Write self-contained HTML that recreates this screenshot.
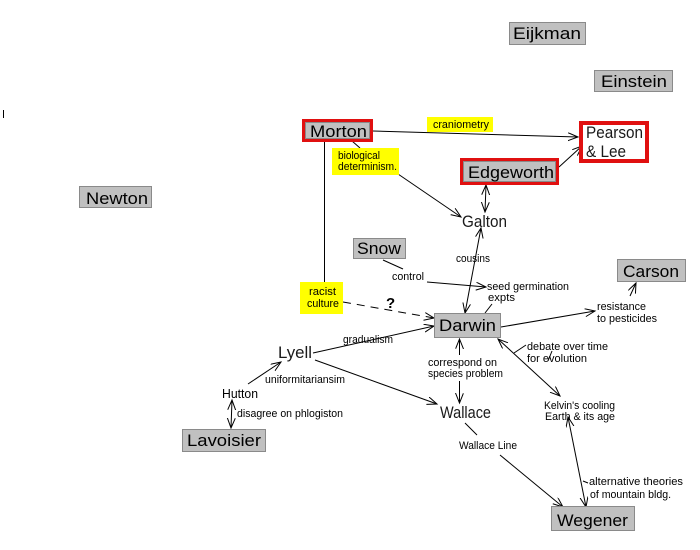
<!DOCTYPE html>
<html><head><meta charset="utf-8"><style>
html,body{margin:0;padding:0;background:#fff;width:700px;height:550px;overflow:hidden}
svg{display:block}
.bl{font-family:"Liberation Sans",sans-serif;font-size:16.5px;fill:#000}
.lt{font-family:"Liberation Sans",sans-serif;font-size:16.5px;fill:#1a1a1a}
.sm{font-family:"Liberation Sans",sans-serif;font-size:11px;fill:#000}
.gb{fill:#c0c0c0;stroke:#8a8a8a;stroke-width:1}
.rb{fill:#c0c0c0;stroke:#e01010;stroke-width:3}
.ln{stroke:#000;stroke-width:1;fill:none}
</style></head><body>
<svg width="700" height="550" viewBox="0 0 700 550" xmlns="http://www.w3.org/2000/svg">
<defs>
<marker id="a" markerUnits="userSpaceOnUse" markerWidth="12" markerHeight="10" refX="10" refY="4" orient="auto-start-reverse">
<path d="M0,0 L10,4 L0,8" fill="none" stroke="#000" stroke-width="1"/>
</marker>
</defs>

<!-- stray mark -->
<line x1="3.5" y1="110" x2="3.5" y2="118" stroke="#000" stroke-width="1"/>

<!-- connectors -->
<line class="ln" x1="373" y1="131" x2="578" y2="137" marker-end="url(#a)"/>
<line class="ln" x1="559" y1="167" x2="582" y2="146" marker-end="url(#a)"/>
<line class="ln" x1="352" y1="141" x2="360" y2="148"/>
<line class="ln" x1="398" y1="174" x2="461" y2="217" marker-end="url(#a)"/>
<line class="ln" x1="486" y1="185" x2="485" y2="212" marker-start="url(#a)" marker-end="url(#a)"/>
<line class="ln" x1="481" y1="228" x2="465" y2="313" marker-start="url(#a)" marker-end="url(#a)"/>
<line class="ln" x1="383" y1="260" x2="403" y2="269"/>
<line class="ln" x1="427" y1="282" x2="486" y2="287" marker-end="url(#a)"/>
<line class="ln" x1="492" y1="304" x2="485" y2="313"/>
<line class="ln" x1="343" y1="302" x2="434" y2="318" stroke-dasharray="8,6" marker-end="url(#a)"/>
<line class="ln" x1="324.5" y1="141" x2="324.5" y2="282"/>
<line class="ln" x1="313" y1="353" x2="434" y2="326" marker-end="url(#a)"/>
<line class="ln" x1="315" y1="360" x2="437" y2="404" marker-end="url(#a)"/>
<line class="ln" x1="248" y1="384" x2="281" y2="362" marker-end="url(#a)"/>
<line class="ln" x1="232" y1="400" x2="231" y2="428" marker-start="url(#a)" marker-end="url(#a)"/>
<line class="ln" x1="459.5" y1="355" x2="459.5" y2="339" marker-end="url(#a)"/>
<line class="ln" x1="459.5" y1="381" x2="459.5" y2="403" marker-end="url(#a)"/>
<line class="ln" x1="501" y1="327" x2="595" y2="311" marker-end="url(#a)"/>
<line class="ln" x1="630" y1="296" x2="636" y2="283" marker-end="url(#a)"/>
<line class="ln" x1="498" y1="339" x2="560" y2="396" marker-start="url(#a)" marker-end="url(#a)"/>
<line class="ln" x1="514" y1="353" x2="526" y2="345"/>
<line class="ln" x1="552" y1="351" x2="548" y2="361"/>
<line class="ln" x1="465" y1="423" x2="477" y2="435"/>
<line class="ln" x1="500" y1="455" x2="563" y2="507" marker-end="url(#a)"/>
<line class="ln" x1="568" y1="417" x2="586" y2="507" marker-start="url(#a)" marker-end="url(#a)"/>
<line class="ln" x1="583" y1="481" x2="588" y2="483"/>

<!-- gray boxes -->
<rect class="gb" x="509.5" y="22.5" width="76" height="22"/>
<rect class="gb" x="594.5" y="70.5" width="78" height="21"/>
<rect class="gb" x="79.5" y="186.5" width="72" height="21"/>
<rect class="gb" x="353.5" y="238.5" width="52" height="20"/>
<rect class="gb" x="617.5" y="259.5" width="68" height="22"/>
<rect class="gb" x="434.5" y="313.5" width="66" height="24"/>
<rect class="gb" x="182.5" y="429.5" width="83" height="22"/>
<rect class="gb" x="551.5" y="506.5" width="83" height="24"/>

<!-- red boxes -->
<rect class="rb" x="303.5" y="120.5" width="68" height="20"/>
<rect x="305.5" y="122.5" width="64" height="16" fill="none" stroke="#8a8a8a" stroke-width="1"/>
<rect class="rb" x="461.5" y="159.5" width="96" height="24"/>
<rect x="463.5" y="161.5" width="92" height="20" fill="none" stroke="#8a8a8a" stroke-width="1"/>
<rect x="581" y="123" width="66" height="38" fill="#fff" stroke="#e01010" stroke-width="4"/>

<!-- yellow labels -->
<rect x="427" y="117" width="66" height="15" fill="#ffff00"/>
<rect x="332" y="148" width="67" height="27" fill="#ffff00"/>
<rect x="300" y="282" width="43" height="32" fill="#ffff00"/>

<!-- box labels -->
<text class="bl" x="513" y="39" textLength="68" lengthAdjust="spacingAndGlyphs">Eijkman</text>
<text class="bl" x="601" y="87" textLength="66" lengthAdjust="spacingAndGlyphs">Einstein</text>
<text class="bl" x="86" y="204" textLength="62" lengthAdjust="spacingAndGlyphs">Newton</text>
<text class="bl" x="310" y="137" textLength="57" lengthAdjust="spacingAndGlyphs">Morton</text>
<text class="bl" x="468" y="178" textLength="86" lengthAdjust="spacingAndGlyphs">Edgeworth</text>
<text class="bl" x="357" y="254" textLength="44" lengthAdjust="spacingAndGlyphs">Snow</text>
<text class="bl" x="623" y="277" textLength="56" lengthAdjust="spacingAndGlyphs">Carson</text>
<text class="bl" x="439" y="331" textLength="57" lengthAdjust="spacingAndGlyphs">Darwin</text>
<text class="bl" x="187" y="446" textLength="74" lengthAdjust="spacingAndGlyphs">Lavoisier</text>
<text class="bl" x="557" y="526" textLength="71" lengthAdjust="spacingAndGlyphs">Wegener</text>

<!-- plain node labels -->
<text class="lt" x="462" y="227" textLength="45" lengthAdjust="spacingAndGlyphs">Galton</text>
<text class="lt" x="278" y="358" textLength="34" lengthAdjust="spacingAndGlyphs">Lyell</text>
<text class="lt" x="440" y="418" textLength="51" lengthAdjust="spacingAndGlyphs">Wallace</text>
<text class="lt" x="586" y="138" textLength="57" lengthAdjust="spacingAndGlyphs">Pearson</text>
<text class="lt" x="586" y="157" textLength="40" lengthAdjust="spacingAndGlyphs">&amp; Lee</text>
<text class="sm" style="font-size:13px" x="222" y="398" textLength="36" lengthAdjust="spacingAndGlyphs">Hutton</text>

<!-- link labels -->
<text class="sm" x="433" y="128" textLength="56" lengthAdjust="spacingAndGlyphs">craniometry</text>
<text class="sm" x="338" y="159" textLength="42" lengthAdjust="spacingAndGlyphs">biological</text>
<text class="sm" x="338" y="170" textLength="59" lengthAdjust="spacingAndGlyphs">determinism.</text>
<text class="sm" x="309" y="295" textLength="27" lengthAdjust="spacingAndGlyphs">racist</text>
<text class="sm" x="307" y="307" textLength="32" lengthAdjust="spacingAndGlyphs">culture</text>
<text class="sm" x="456" y="262" textLength="34" lengthAdjust="spacingAndGlyphs">cousins</text>
<text class="sm" x="392" y="280" textLength="32" lengthAdjust="spacingAndGlyphs">control</text>
<text class="sm" x="487" y="290" textLength="82" lengthAdjust="spacingAndGlyphs">seed germination</text>
<text class="sm" x="488" y="301" textLength="27" lengthAdjust="spacingAndGlyphs">expts</text>
<text x="386" y="308" style="font-family:'Liberation Sans',sans-serif;font-size:15px;font-weight:bold">?</text>
<text class="sm" x="343" y="343" textLength="50" lengthAdjust="spacingAndGlyphs">gradualism</text>
<text class="sm" x="265" y="383" textLength="80" lengthAdjust="spacingAndGlyphs">uniformitariansim</text>
<text class="sm" x="237" y="417" textLength="106" lengthAdjust="spacingAndGlyphs">disagree on phlogiston</text>
<text class="sm" x="428" y="366" textLength="69" lengthAdjust="spacingAndGlyphs">correspond on</text>
<text class="sm" x="428" y="377" textLength="75" lengthAdjust="spacingAndGlyphs">species problem</text>
<text class="sm" x="597" y="310" textLength="49" lengthAdjust="spacingAndGlyphs">resistance</text>
<text class="sm" x="597" y="322" textLength="60" lengthAdjust="spacingAndGlyphs">to pesticides</text>
<text class="sm" x="527" y="350" textLength="81" lengthAdjust="spacingAndGlyphs">debate over time</text>
<text class="sm" x="527" y="362" textLength="60" lengthAdjust="spacingAndGlyphs">for evolution</text>
<text class="sm" x="544" y="409" textLength="71" lengthAdjust="spacingAndGlyphs">Kelvin's cooling</text>
<text class="sm" x="545" y="420" textLength="70" lengthAdjust="spacingAndGlyphs">Earth &amp; its age</text>
<text class="sm" x="459" y="449" textLength="58" lengthAdjust="spacingAndGlyphs">Wallace Line</text>
<text class="sm" x="589" y="485" textLength="94" lengthAdjust="spacingAndGlyphs">alternative theories</text>
<text class="sm" x="590" y="498" textLength="81" lengthAdjust="spacingAndGlyphs">of mountain bldg.</text>
</svg>
</body></html>
